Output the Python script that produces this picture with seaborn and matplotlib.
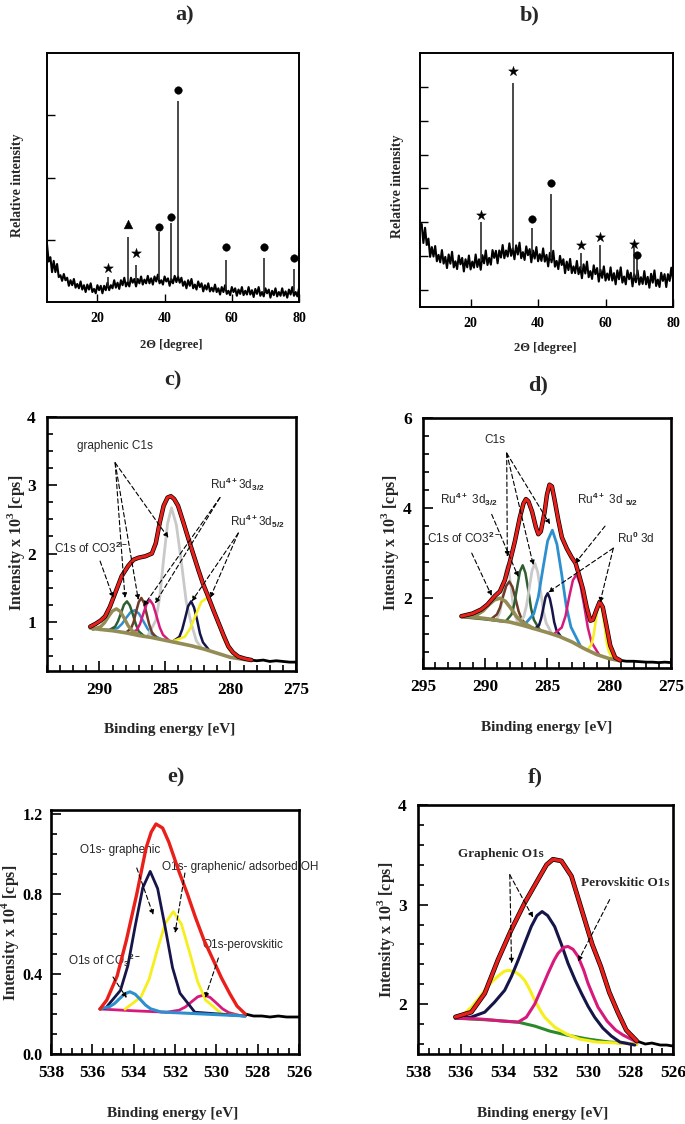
import matplotlib
matplotlib.use("Agg")
import matplotlib.pyplot as plt
from matplotlib.ticker import MultipleLocator, FormatStrFormatter
import numpy as np
import seaborn as sns

# ---------------- XRD data ----------------
tth = np.arange(5.0, 80.5, 0.5)

a_bg = [0.93, 0.65, 0.72, 0.48, 0.66, 0.48, 0.61, 0.40, 0.43, 0.34,
        0.45, 0.35, 0.39, 0.26, 0.35, 0.27, 0.37, 0.23, 0.29, 0.22,
        0.33, 0.20, 0.27, 0.16, 0.28, 0.20, 0.30, 0.16, 0.21, 0.14,
        0.27, 0.19, 0.26, 0.14, 0.26, 0.19, 0.31, 0.19, 0.27, 0.22,
        0.35, 0.23, 0.31, 0.21, 0.35, 0.27, 0.39, 0.25, 0.32, 0.25,
        0.39, 0.31, 0.37, 0.25, 0.37, 0.30, 0.41, 0.28, 0.36, 0.30,
        0.42, 0.30, 0.38, 0.28, 0.41, 0.33, 0.44, 0.30, 0.35, 0.28,
        0.41, 0.33, 0.38, 0.26, 0.37, 0.30, 0.42, 0.32, 0.41, 0.31,
        0.39, 0.26, 0.33, 0.22, 0.35, 0.26, 0.37, 0.22, 0.28, 0.20,
        0.33, 0.24, 0.30, 0.17, 0.27, 0.20, 0.30, 0.17, 0.23, 0.17,
        0.28, 0.16, 0.22, 0.12, 0.24, 0.16, 0.27, 0.13, 0.18, 0.11,
        0.24, 0.16, 0.22, 0.10, 0.20, 0.13, 0.24, 0.11, 0.18, 0.12,
        0.24, 0.12, 0.19, 0.08, 0.21, 0.13, 0.24, 0.10, 0.16, 0.09,
        0.22, 0.14, 0.20, 0.07, 0.18, 0.11, 0.22, 0.09, 0.16, 0.10,
        0.22, 0.10, 0.17, 0.07, 0.20, 0.12, 0.24, 0.10, 0.16, 0.09,
        0.22]
a_peak_pos = [23.2, 29.2, 31.6, 38.4, 42.0, 44.1, 58.4, 69.5, 78.4]
a_peak_base = [0.24, 0.32, 0.33, 0.36, 0.34, 0.40, 0.19, 0.16, 0.16]
a_peak_top = [0.40, 1.05, 0.60, 1.13, 1.27, 3.23, 0.68, 0.71, 0.53]
a_star_x, a_star_y = [23.2, 31.6], [0.55, 0.79]
a_tri_x, a_tri_y = [29.2], [1.26]
a_circ_x = [38.4, 42.0, 44.1, 58.4, 69.5, 78.4]
a_circ_y = [1.21, 1.37, 3.40, 0.89, 0.89, 0.71]

b_bg = [1.91, 1.95, 1.39, 1.84, 1.33, 1.52, 0.98, 1.27, 0.99, 1.30,
        0.85, 1.04, 0.82, 1.18, 0.78, 0.98, 0.65, 1.05, 0.78, 1.13,
        0.67, 0.85, 0.62, 1.02, 0.76, 0.95, 0.55, 0.91, 0.67, 1.02,
        0.61, 0.84, 0.66, 1.05, 0.68, 0.91, 0.60, 1.03, 0.79, 1.17,
        0.74, 0.95, 0.75, 1.18, 0.95, 1.16, 0.79, 1.17, 0.96, 1.33,
        0.94, 1.17, 0.99, 1.38, 1.01, 1.23, 0.91, 1.32, 1.05, 1.40,
        0.94, 1.12, 0.89, 1.29, 1.03, 1.21, 0.82, 1.17, 0.93, 1.27,
        0.85, 1.06, 0.86, 1.23, 0.84, 1.04, 0.70, 1.10, 0.82, 1.16,
        0.69, 0.86, 0.62, 1.01, 0.74, 0.91, 0.50, 0.84, 0.59, 0.92,
        0.50, 0.70, 0.50, 0.86, 0.47, 0.68, 0.35, 0.76, 0.49, 0.84,
        0.38, 0.56, 0.33, 0.73, 0.47, 0.65, 0.25, 0.60, 0.36, 0.70,
        0.28, 0.49, 0.30, 0.67, 0.28, 0.50, 0.17, 0.58, 0.32, 0.67,
        0.22, 0.40, 0.17, 0.58, 0.32, 0.51, 0.11, 0.47, 0.23, 0.58,
        0.16, 0.38, 0.18, 0.56, 0.17, 0.39, 0.07, 0.48, 0.22, 0.58,
        0.12, 0.31, 0.09, 0.51, 0.27, 0.47, 0.09, 0.47, 0.27, 0.66,
        0.31]
b_peak_pos = [23.1, 32.6, 38.2, 43.8, 52.7, 58.3, 68.4, 69.3]
b_peak_base = [0.86, 1.17, 1.08, 0.92, 0.62, 0.51, 0.37, 0.36]
b_peak_top = [2.00, 6.10, 1.82, 2.85, 1.09, 1.32, 1.26, 0.95]
b_star_x = [23.1, 32.6, 52.7, 58.3, 68.4]
b_star_y = [2.22, 6.47, 1.32, 1.56, 1.35]
b_circ_x, b_circ_y = [38.2, 43.8, 69.3], [2.10, 3.15, 1.03]

# ---------------- XPS C1s / Ru3d, panel c ----------------
c_red = [(290.7, 0.93), (290.3, 0.97), (289.9, 1.02), (289.57, 1.08), (289.2, 1.22),
         (288.8, 1.42), (288.3, 1.67), (287.8, 1.82), (287.4, 1.91), (287.0, 1.94),
         (286.5, 1.96), (286.0, 2.00), (285.7, 2.15), (285.4, 2.45), (285.1, 2.70),
         (284.8, 2.82), (284.55, 2.84), (284.3, 2.80), (284.0, 2.70), (283.6, 2.46),
         (283.2, 2.21), (282.8, 1.97), (282.45, 1.76), (282.1, 1.56), (281.7, 1.37),
         (281.3, 1.17), (280.9, 0.98), (280.5, 0.79), (280.16, 0.64), (279.8, 0.55),
         (279.4, 0.49), (278.9, 0.46), (278.4, 0.44)]
c_tail = [(278.4, 0.44), (278.0, 0.43), (277.5, 0.44), (277.0, 0.42), (276.5, 0.43),
          (276.0, 0.42), (275.5, 0.41), (275.0, 0.41)]
c_base = [(290.7, 0.91), (290.0, 0.89), (289.0, 0.87), (288.0, 0.84), (287.0, 0.80),
          (286.0, 0.77), (285.0, 0.73), (284.0, 0.69), (283.0, 0.65), (282.0, 0.60),
          (281.0, 0.54), (280.0, 0.48), (279.0, 0.45), (278.4, 0.44)]
c_olive = [(290.5, 0.89), (289.9, 0.93), (289.6, 0.99), (289.3, 1.08), (289.0, 1.16),
           (288.7, 1.19), (288.4, 1.15), (288.1, 1.05), (287.8, 0.94), (287.5, 0.87),
           (286.9, 0.80)]
c_green = [(289.25, 0.88), (288.8, 0.93), (288.58, 1.01), (288.35, 1.13), (288.13, 1.25),
           (287.9, 1.30), (287.68, 1.24), (287.45, 1.11), (287.23, 0.97), (287.0, 0.86),
           (286.55, 0.785)]
c_blue = [(290.7, 0.91), (289.25, 0.88), (288.6, 0.91), (288.28, 0.97), (287.95, 1.06),
          (287.63, 1.14), (287.3, 1.17), (286.98, 1.12), (286.65, 1.01), (286.33, 0.90),
          (286.0, 0.82), (285.35, 0.75)]
c_brown = [(288.0, 0.84), (287.6, 0.90), (287.4, 0.99), (287.2, 1.15), (287.0, 1.29),
           (286.8, 1.35), (286.6, 1.28), (286.4, 1.12), (286.2, 0.96), (286.0, 0.85),
           (285.6, 0.755)]
c_magenta = [(287.65, 0.835), (287.15, 0.88), (286.9, 0.97), (286.65, 1.12), (286.4, 1.26),
             (286.15, 1.32), (285.9, 1.25), (285.65, 1.09), (285.4, 0.92), (285.15, 0.81),
             (284.65, 0.72)]
c_gray = [(286.3, 0.80), (285.7, 1.02), (285.4, 1.36), (285.1, 1.92), (284.8, 2.44),
          (284.5, 2.67), (284.13, 2.42), (283.75, 1.88), (283.38, 1.30), (283.0, 0.98),
          (282.6, 0.72), (282.25, 0.63)]
c_navy = [(284.35, 0.72), (283.9, 0.78), (283.68, 0.89), (283.45, 1.06), (283.23, 1.23),
          (283.0, 1.30), (282.78, 1.21), (282.55, 1.03), (282.33, 0.83), (282.1, 0.70),
          (281.65, 0.59)]
c_yellow = [(284.35, 0.72), (283.5, 0.78), (283.08, 0.90), (282.65, 1.10), (282.23, 1.29),
            (281.8, 1.35), (281.38, 1.24), (280.95, 1.01), (280.53, 0.76), (280.1, 0.59),
            (279.25, 0.46)]

# ---------------- XPS panel d ----------------
d_red = [(291.9, 1.60), (291.0, 1.66), (290.3, 1.75), (289.8, 1.86), (289.2, 2.05),
         (288.8, 2.15), (288.4, 2.40), (288.0, 2.80), (287.6, 3.25), (287.2, 3.78),
         (286.9, 4.10), (286.7, 4.20), (286.5, 4.15), (286.2, 3.92), (285.9, 3.58),
         (285.7, 3.42), (285.5, 3.48), (285.2, 3.90), (285.0, 4.30), (284.8, 4.52),
         (284.6, 4.48), (284.4, 4.20), (284.1, 3.75), (283.8, 3.35), (283.4, 3.10),
         (283.0, 2.90), (282.7, 2.78), (282.4, 2.50), (282.1, 2.20), (281.8, 1.80),
         (281.5, 1.50), (281.3, 1.52), (281.0, 1.75), (280.75, 1.92), (280.5, 1.80),
         (280.2, 1.38), (279.9, 0.95), (279.5, 0.68), (279.1, 0.62)]
d_tail = [(279.1, 0.62), (278.6, 0.60), (278.0, 0.60), (277.5, 0.59), (277.0, 0.58),
          (276.5, 0.58), (276.0, 0.57), (275.5, 0.58), (275.0, 0.57)]
d_base = [(291.9, 1.60), (291.0, 1.58), (290.0, 1.55), (289.0, 1.51), (288.0, 1.47),
          (287.0, 1.40), (286.0, 1.32), (285.0, 1.24), (284.0, 1.15), (283.0, 1.03),
          (282.0, 0.88), (281.0, 0.75), (280.0, 0.66), (279.1, 0.61)]
d_olive = [(291.9, 1.60), (291.5, 1.60), (290.6, 1.64), (290.15, 1.72), (289.7, 1.85),
           (289.25, 1.96), (288.8, 2.00), (288.35, 1.93), (287.9, 1.77), (287.45, 1.59),
           (287.0, 1.47), (286.1, 1.33)]
d_brown = [(290.5, 1.56), (289.54, 1.53), (289.04, 1.64), (288.79, 1.79), (288.54, 2.04),
           (288.29, 2.27), (288.04, 2.37), (287.79, 2.25), (287.54, 1.99), (287.29, 1.71),
           (287.04, 1.53), (286.54, 1.37)]
d_gray1 = [(289.1, 1.51), (288.8, 1.68), (288.65, 1.90), (288.5, 2.25), (288.35, 2.58),
           (288.2, 2.73), (288.05, 2.57), (287.9, 2.23), (287.75, 1.85), (287.6, 1.62),
           (287.3, 1.42)]
d_green = [(291.9, 1.58), (290.0, 1.53), (288.5, 1.48), (288.31, 1.49), (287.86, 1.64),
           (287.64, 1.87), (287.41, 2.24), (287.19, 2.59), (286.96, 2.73), (286.74, 2.56),
           (286.51, 2.18), (286.29, 1.78), (286.06, 1.52), (285.61, 1.31)]
d_gray2 = [(287.32, 1.43), (286.87, 1.59), (286.65, 1.84), (286.42, 2.24), (286.2, 2.62),
           (285.97, 2.77), (285.75, 2.58), (285.52, 2.16), (285.3, 1.73), (285.07, 1.45),
           (284.62, 1.22)]
d_blue = [(286.82, 1.41), (286.07, 1.65), (285.7, 2.03), (285.32, 2.67), (284.95, 3.27),
          (284.57, 3.51), (284.2, 3.20), (283.82, 2.54), (283.45, 1.83), (283.07, 1.36),
          (282.32, 0.95)]
d_navy = [(285.99, 1.32), (285.64, 1.40), (285.47, 1.55), (285.29, 1.79), (285.12, 2.02),
          (284.94, 2.11), (284.77, 1.99), (284.59, 1.75), (284.42, 1.47), (284.24, 1.29),
          (283.89, 1.15)]
d_magenta = [(284.41, 1.21), (283.81, 1.35), (283.51, 1.60), (283.21, 2.03), (282.91, 2.40),
             (282.61, 2.53), (282.31, 2.29), (282.01, 1.85), (281.71, 1.35), (281.41, 1.02),
             (280.81, 0.75)]
d_yellow = [(281.77, 0.84), (281.42, 0.97), (281.25, 1.16), (281.07, 1.49), (280.9, 1.79),
            (280.72, 1.90), (280.55, 1.74), (280.37, 1.40), (280.2, 1.04), (280.02, 0.82),
            (279.67, 0.64)]

# ---------------- XPS O1s, panel e ----------------
e_red = [(535.63, 0.225), (535.3, 0.27), (534.8, 0.39), (534.35, 0.57), (533.85, 0.80),
         (533.4, 1.03), (533.15, 1.11), (532.92, 1.15), (532.6, 1.13), (532.3, 1.06),
         (531.8, 0.91), (531.4, 0.80), (531.0, 0.68), (530.6, 0.57), (530.15, 0.47),
         (529.75, 0.38), (529.34, 0.30), (529.0, 0.24), (528.6, 0.20)]
e_tail = [(528.6, 0.20), (528.2, 0.19), (527.8, 0.19), (527.4, 0.185), (527.0, 0.19),
          (526.6, 0.185), (526.0, 0.185)]
e_navy = [(535.63, 0.225), (535.36, 0.229), (534.64, 0.318), (534.28, 0.442), (533.92, 0.643),
          (533.56, 0.831), (533.2, 0.913), (532.84, 0.827), (532.48, 0.636), (532.12, 0.432),
          (531.76, 0.304), (531.04, 0.209), (528.6, 0.19)]
e_yellow = [(534.42, 0.224), (533.64, 0.286), (533.25, 0.375), (532.86, 0.519), (532.47, 0.653),
            (532.08, 0.712), (531.69, 0.649), (531.3, 0.511), (530.91, 0.363), (530.52, 0.27),
            (529.74, 0.201), (528.6, 0.19)]
e_blue = [(535.63, 0.226), (535.18, 0.236), (534.93, 0.252), (534.68, 0.277), (534.43, 0.301),
          (534.18, 0.311), (533.93, 0.299), (533.68, 0.273), (533.43, 0.245), (533.18, 0.226),
          (532.68, 0.21), (528.6, 0.19)]
e_magenta = [(535.63, 0.225), (534.0, 0.216), (532.4, 0.209), (531.8, 0.219), (531.5, 0.235),
             (531.2, 0.261), (530.9, 0.286), (530.6, 0.295), (530.3, 0.283), (530.0, 0.255),
             (529.7, 0.226), (529.4, 0.207), (528.8, 0.191), (528.6, 0.19)]

# ---------------- XPS O1s, panel f ----------------
f_red = [(536.24, 1.872), (535.49, 1.92), (534.86, 2.108), (534.24, 2.444), (533.61, 2.747),
         (532.98, 3.017), (532.35, 3.252), (531.95, 3.40), (531.65, 3.455), (531.25, 3.438),
         (530.78, 3.286), (530.3, 2.95), (529.8, 2.60), (529.4, 2.38), (529.0, 2.12),
         (528.6, 1.92), (528.2, 1.74), (527.7, 1.63)]
f_tail = [(527.7, 1.63), (527.3, 1.60), (527.0, 1.61), (526.6, 1.59), (526.3, 1.59),
          (526.0, 1.58)]
f_navy = [(536.24, 1.86), (535.5, 1.87), (534.86, 1.92), (534.4, 2.02), (533.92, 2.14),
          (533.6, 2.28), (533.29, 2.44), (533.0, 2.60), (532.67, 2.78), (532.4, 2.89),
          (532.16, 2.93), (531.9, 2.89), (531.57, 2.78), (531.25, 2.60), (530.94, 2.41),
          (530.6, 2.24), (530.31, 2.11), (530.0, 1.98), (529.69, 1.87), (529.3, 1.76),
          (528.9, 1.68), (528.5, 1.62), (527.8, 1.59)]
f_yellow = [(536.24, 1.87), (535.9, 1.89), (535.49, 1.97), (535.1, 2.07), (534.86, 2.14),
            (534.5, 2.23), (534.24, 2.28), (533.95, 2.33), (533.73, 2.34), (533.4, 2.32),
            (533.2, 2.29), (532.98, 2.24), (532.75, 2.15), (532.51, 2.04), (532.25, 1.94),
            (532.04, 1.87), (531.57, 1.77), (531.0, 1.70), (530.4, 1.65), (529.6, 1.62),
            (528.6, 1.61), (527.7, 1.60)]
f_magenta = [(536.24, 1.86), (535.0, 1.85), (534.0, 1.83), (533.29, 1.82), (532.9, 1.87),
             (532.51, 2.00), (532.2, 2.15), (531.88, 2.31), (531.6, 2.44), (531.41, 2.51),
             (531.15, 2.57), (530.94, 2.58), (530.7, 2.55), (530.47, 2.48), (530.2, 2.34),
             (530.0, 2.21), (529.75, 2.08), (529.53, 1.97), (529.1, 1.83), (528.7, 1.74),
             (528.35, 1.69), (527.7, 1.62)]
f_green = [(536.24, 1.86), (534.5, 1.84), (533.29, 1.82), (532.5, 1.78), (531.8, 1.73),
           (531.0, 1.69), (530.0, 1.65), (529.0, 1.62), (527.7, 1.60)]

RED, NAVY, YELLOW, MAGENTA = "#ea1f1a", "#16154a", "#f6ef1c", "#d8197c"
BLUE, GRAY, GREEN, BROWN, OLIVE = "#2c8fd0", "#c9c9c9", "#2f5e30", "#6e3b27", "#938c55"

sns.set_style("ticks")
plt.rcParams["font.family"] = ["Liberation Serif", "DejaVu Serif"]
plt.rcParams["font.weight"] = "bold"
plt.rcParams["mathtext.fontset"] = "custom"
plt.rcParams["mathtext.rm"] = "Liberation Sans"
plt.rcParams["mathtext.bf"] = "Liberation Serif:bold"
plt.rcParams["mathtext.default"] = "rm"
plt.rcParams["axes.edgecolor"] = "black"
plt.rcParams["xtick.color"] = "black"
plt.rcParams["ytick.color"] = "black"

SANS = ["Liberation Sans Narrow", "Liberation Sans", "DejaVu Sans"]

fig = plt.figure(figsize=(6.85, 11.24), dpi=100)
W, H = 685.0, 1124.0


def box(x0, y0, x1, y1):
    return fig.add_axes([x0 / W, 1 - y1 / H, (x1 - x0) / W, (y1 - y0) / H])


def ftext(px, py, s, **kw):
    fig.text(px / W, 1 - py / H, s, ha="center", va="center", **kw)


def curve(ax, pts, color, lw, z):
    xs, ys = zip(*pts)
    sns.lineplot(x=list(xs), y=list(ys), ax=ax, color=color, lw=lw, sort=False,
                 estimator=None, zorder=z, solid_capstyle="round")


def arrows(ax, origin, targets):
    for t in targets:
        ax.annotate("", xy=t, xytext=origin,
                    arrowprops=dict(arrowstyle="-|>", linestyle=(0, (4, 2.5)), lw=0.8,
                                    color="black", mutation_scale=7, shrinkA=0, shrinkB=0),
                    zorder=20)


def draw_xrd(ax, bg, pos, base, top, marks, ylim, yticks):
    sns.lineplot(x=tth, y=bg, ax=ax, color="black", lw=1.5, estimator=None, sort=False)
    ax.vlines(pos, base, top, color="#2a2a2a", lw=1.2)
    for mk, mx, my, size in marks:
        sns.scatterplot(x=mx, y=my, ax=ax, marker=mk, s=size, color="black",
                        edgecolor="black", linewidth=0.3, zorder=10)
    ax.set_xlim(5, 80)
    ax.set_ylim(*ylim)
    ax.set_xticks([20, 40, 60, 80])
    ax.set_yticks(yticks)
    ax.set_yticklabels([])
    ax.tick_params(direction="in", length=6, width=1.0, labelsize=10, pad=7,
                   top=False, right=False)
    for s in ax.spines.values():
        s.set_linewidth(1.4)


def style_xps(ax, xlim, ylim, xmaj, xmin, ymaj, ymin, yfmt, ysize=12.5):
    ax.set_xlim(*xlim)
    ax.set_ylim(*ylim)
    ax.xaxis.set_major_locator(MultipleLocator(xmaj))
    ax.xaxis.set_minor_locator(MultipleLocator(xmin))
    ax.yaxis.set_major_locator(MultipleLocator(ymaj))
    ax.yaxis.set_minor_locator(MultipleLocator(ymin))
    ax.yaxis.set_major_formatter(FormatStrFormatter(yfmt))
    ax.tick_params(which="both", direction="in", top=False, right=False, width=1.2)
    ax.tick_params(which="major", length=7, pad=8)
    ax.tick_params(axis="x", which="major", labelsize=12.5)
    ax.tick_params(axis="y", which="major", labelsize=ysize)
    ax.tick_params(which="minor", length=4)
    for s in ax.spines.values():
        s.set_linewidth(1.9)


# ---- a) ----
ax_a = box(47, 53, 299, 302)
draw_xrd(ax_a, a_bg, a_peak_pos, a_peak_base, a_peak_top,
         [("*", a_star_x, a_star_y, 55), ("^", a_tri_x, a_tri_y, 40),
          ("o", a_circ_x, a_circ_y, 30)], (0, 4), [1, 2, 3])

# ---- b) ----
ax_b = box(420, 53, 673, 307)
draw_xrd(ax_b, b_bg, b_peak_pos, b_peak_base, b_peak_top,
         [("*", b_star_x, b_star_y, 55), ("o", b_circ_x, b_circ_y, 30)],
         (-0.5, 7), [0, 1, 2, 3, 4, 5, 6])

# ---- c) ----
ax_c = box(47, 417, 296, 671)
for pts, col, lw in [(c_blue, BLUE, 1.8), (c_gray, GRAY, 2.0), (c_green, GREEN, 1.8),
                     (c_brown, BROWN, 1.8), (c_magenta, MAGENTA, 1.8), (c_navy, NAVY, 1.8),
                     (c_yellow, YELLOW, 1.8), (c_olive, OLIVE, 2.4)]:
    curve(ax_c, pts, col, lw, 3)
curve(ax_c, c_base, OLIVE, 2.6, 4)
curve(ax_c, c_red, "black", 3.2, 5)
curve(ax_c, c_tail, "black", 2.0, 5)
curve(ax_c, c_red, RED, 2.2, 6)
style_xps(ax_c, (294, 275), (0.28, 4.0), 5, 1, 1, 0.25, "%d")
ax_c.text(288.8, 3.58, "graphenic C1s", family=SANS, weight="normal", fontsize=8.5,
          ha="center", va="center")
arrows(ax_c, (288.8, 3.33), [(288.05, 1.35), (287.03, 1.32), (284.74, 2.23)])
ax_c.text(293.5, 2.08, r"C1s of CO3$^{2-}$", family=SANS, weight="normal", fontsize=8.5,
          ha="left", va="center")
arrows(ax_c, (289.95, 1.89), [(288.94, 1.35)])
ax_c.text(281.56, 3.01, r"Ru$^{4+}$3d$_{3/2}$", family=SANS, weight="normal", fontsize=8.5,
          ha="left", va="center")
arrows(ax_c, (280.8, 2.82), [(286.65, 1.23), (285.76, 1.27)])
ax_c.text(280.03, 2.47, r"Ru$^{4+}$3d$_{5/2}$", family=SANS, weight="normal", fontsize=8.5,
          ha="left", va="center")
arrows(ax_c, (279.4, 2.30), [(282.96, 1.30), (281.56, 1.35)])

# ---- d) ----
ax_d = box(423, 418, 671, 668)
for pts, col, lw in [(d_gray1, GRAY, 1.8), (d_brown, BROWN, 1.8), (d_green, GREEN, 1.8),
                     (d_gray2, GRAY, 2.0), (d_blue, BLUE, 2.0), (d_navy, NAVY, 1.8),
                     (d_magenta, MAGENTA, 1.8), (d_yellow, YELLOW, 1.8)]:
    curve(ax_d, pts, col, lw, 3)
curve(ax_d, d_base, OLIVE, 2.6, 4)
curve(ax_d, d_olive, OLIVE, 2.6, 4)
curve(ax_d, d_red, "black", 3.2, 5)
curve(ax_d, d_tail, "black", 2.0, 5)
curve(ax_d, d_red, RED, 2.2, 6)
style_xps(ax_d, (295, 275), (0.45, 6.0), 5, 1, 2, 0.4, "%d")
ax_d.text(289.2, 5.52, "C1s", family=SANS, weight="normal", fontsize=8.5,
          ha="center", va="center")
arrows(ax_d, (288.25, 5.22), [(288.2, 2.92), (286.1, 2.73), (284.76, 3.64)])
ax_d.text(293.6, 4.19, r"Ru$^{4+}$ 3d$_{3/2}$", family=SANS, weight="normal", fontsize=8.5,
          ha="left", va="center")
arrows(ax_d, (289.46, 3.86), [(287.31, 2.47)])
ax_d.text(294.7, 3.33, r"C1s of CO3$^{2-}$", family=SANS, weight="normal", fontsize=8.5,
          ha="left", va="center")
arrows(ax_d, (291.07, 3.0), [(289.46, 2.05)])
ax_d.text(282.6, 4.20, r"Ru$^{4+}$ 3d $_{5/2}$", family=SANS, weight="normal", fontsize=8.5,
          ha="left", va="center")
arrows(ax_d, (280.32, 3.60), [(282.74, 2.77)])
ax_d.text(279.38, 3.33, r"Ru$^{0}$ 3d", family=SANS, weight="normal", fontsize=8.5,
          ha="left", va="center")
arrows(ax_d, (279.65, 3.11), [(284.9, 2.13), (280.73, 1.90)])

# ---- e) ----
ax_e = box(51, 810, 299, 1054)
for pts, col, lw in [(e_magenta, MAGENTA, 2.0), (e_yellow, YELLOW, 2.0),
                     (e_navy, NAVY, 2.0), (e_blue, BLUE, 2.2)]:
    curve(ax_e, pts, col, lw, 3)
curve(ax_e, e_tail, "black", 2.0, 5)
curve(ax_e, e_red, RED, 2.4, 6)
style_xps(ax_e, (538, 526), (0, 1.22), 2, 0.5, 0.4, 0.1, "%.1f", ysize=11.5)
ax_e.tick_params(axis="y", which="major", pad=6)
ax_e.text(536.6, 1.02, "O1s- graphenic", family=SANS, weight="normal", fontsize=8.5,
          ha="left", va="center")
arrows(ax_e, (533.85, 0.93), [(533.05, 0.695)])
ax_e.text(532.63, 0.935, "O1s- graphenic/ adsorbed OH", family=SANS, weight="normal",
          fontsize=8.5, ha="left", va="center")
arrows(ax_e, (531.52, 0.905), [(532.0, 0.605)])
ax_e.text(537.2, 0.47, r"O1s of CO$_3$$^{2-}$", family=SANS, weight="normal", fontsize=8.5,
          ha="left", va="center")
arrows(ax_e, (535.0, 0.385), [(534.34, 0.28)])
ax_e.text(530.65, 0.545, "O1s-perovskitic", family=SANS, weight="normal", fontsize=8.5,
          ha="left", va="center")
arrows(ax_e, (529.9, 0.48), [(530.55, 0.28)])

# ---- f) ----
ax_f = box(418, 805, 673, 1054)
curve(ax_f, f_green, "#2a8a2a", 2.2, 3)
for pts, col in [(f_yellow, YELLOW), (f_navy, NAVY), (f_magenta, MAGENTA)]:
    curve(ax_f, pts, col, 2.2, 3)
curve(ax_f, f_red, "black", 3.4, 5)
curve(ax_f, f_tail, "black", 2.0, 5)
curve(ax_f, f_red, RED, 2.4, 6)
style_xps(ax_f, (538, 526), (1.5, 4.0), 2, 0.5, 1, 0.2, "%d")
ax_f.text(536.12, 3.505, "Graphenic O1s", fontsize=9.5, ha="left", va="center")
arrows(ax_f, (533.68, 3.30), [(533.6, 2.41), (532.59, 2.87)])
ax_f.text(530.33, 3.22, "Perovskitic O1s", fontsize=9.5, ha="left", va="center")
arrows(ax_f, (528.98, 3.05), [(530.47, 2.43)])

# ---- titles and axis labels ----
for px, py, s in [(185, 15, "a)"), (530, 15, "b)"), (173, 380, "c)"),
                  (538, 385, "d)"), (176, 777, "e)"), (535, 777, "f)")]:
    ftext(px, py, s, fontsize=16)

ftext(18, 185, "Relative intensity", fontsize=10, rotation=90)
ftext(397, 186, "Relative intensity", fontsize=10, rotation=90)
ftext(171, 345, "2\u0398 [degree]", fontsize=9)
ftext(545, 348, "2\u0398 [degree]", fontsize=9)
ftext(16, 543, r"Intensity x 10$^\mathbf{3}$ [cps]", fontsize=11.5, rotation=90)
ftext(390, 543, r"Intensity x 10$^\mathbf{3}$ [cps]", fontsize=11.5, rotation=90)
ftext(10, 933, r"Intensity x 10$^\mathbf{4}$ [cps]", fontsize=11.5, rotation=90)
ftext(386, 930, r"Intensity x 10$^\mathbf{3}$ [cps]", fontsize=11.5, rotation=90)
ftext(170, 730, "Binding energy [eV]", fontsize=11)
ftext(547, 727, "Binding energy [eV]", fontsize=11)
ftext(173, 1113, "Binding energy [eV]", fontsize=11)
ftext(543, 1113, "Binding energy [eV]", fontsize=11)

fig.savefig("out.png", dpi=100)
